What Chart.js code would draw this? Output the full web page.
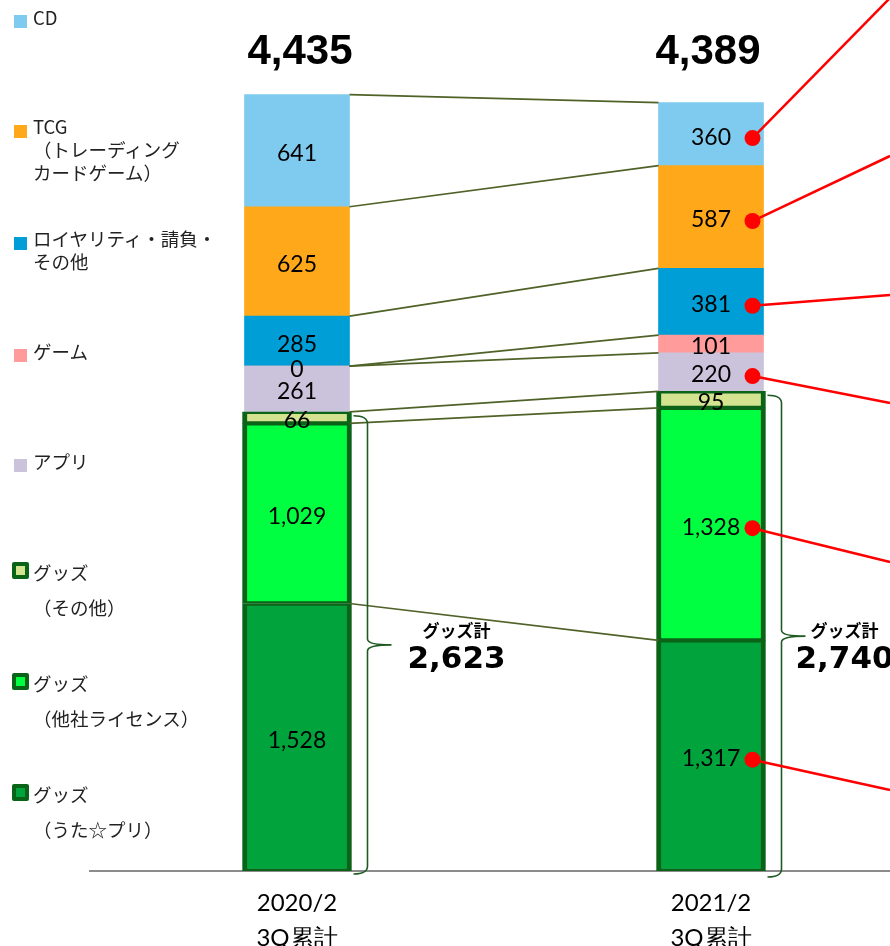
<!DOCTYPE html>
<html>
<head>
<meta charset="utf-8">
<script src="https://cdn.jsdelivr.net/npm/chart.js@4"></script>
<style>
  html, body { margin: 0; padding: 0; background: #fff; width: 890px; height: 946px; overflow: hidden; }
  #chart { position: absolute; left: 0; top: 0; }
  .legend { position: absolute; left: 0; top: 0; font-family: "Noto Sans CJK JP", sans-serif; font-size: 18.5px; color: #222; }
  .legend .sw { position: absolute; width: 13px; height: 13px; }
  .legend .sw.goods { width: 9px; height: 9px; border: 4px solid #0b6318; border-radius: 2px; }
  .legend .t { position: absolute; left: 33px; white-space: pre; }
</style>
</head>
<body>
<canvas id="chart" width="930" height="946"></canvas>
<div class="legend" id="legend"></div>
<script>
// values (million yen)
const categories = [["2020/2", "3Q累計"], ["2021/2", "3Q累計"]];
const goodsUta = [1528, 1317];
const goodsLicense = [1029, 1328];
const goodsOther = [66, 95];
const app = [261, 220];
const game = [0, 101];
const royalty = [285, 381];
const tcg = [625, 587];
const cd = [641, 360];
const totals = [4435, 4389];
const goodsTotals = [2623, 2740];

// stacked bottom -> top
const series = [
  { key: "goodsUta", label: "グッズ\n（うた☆プリ）", data: goodsUta, color: "#00a33c", goods: true },
  { key: "goodsLicense", label: "グッズ\n（他社ライセンス）", data: goodsLicense, color: "#00ff40", goods: true },
  { key: "goodsOther", label: "グッズ\n（その他）", data: goodsOther, color: "#d4e38f", goods: true },
  { key: "app", label: "アプリ", data: app, color: "#cbc3dc" },
  { key: "game", label: "ゲーム", data: game, color: "#ff9b9b" },
  { key: "royalty", label: "ロイヤリティ・請負・\nその他", data: royalty, color: "#009ed6" },
  { key: "tcg", label: "TCG\n（トレーディング\nカードゲーム）", data: tcg, color: "#ffa81a" },
  { key: "cd", label: "CD", data: cd, color: "#7fcbef" }
];

// legend layout (top -> bottom), text top y and line height
const legendOrder = ["cd", "tcg", "royalty", "game", "app", "goodsOther", "goodsLicense", "goodsUta"];
const legendTop = [5, 115, 227, 339, 449, 555, 666, 777];
const legendLine = [24, 23, 23, 24, 24, 35, 35, 35];

const legendEl = document.getElementById("legend");
legendOrder.forEach((k, i) => {
  const s = series.find(d => d.key === k);
  const sw = document.createElement("div");
  sw.className = "sw" + (s.goods ? " goods" : "");
  sw.style.background = s.color;
  sw.style.left = (s.goods ? 12 : 14) + "px";
  sw.style.top = (legendTop[i] + (s.goods ? 7 : 10)) + "px";
  legendEl.appendChild(sw);
  const t = document.createElement("div");
  t.className = "t";
  t.style.top = legendTop[i] + "px";
  t.style.lineHeight = legendLine[i] + "px";
  t.textContent = s.label;
  legendEl.appendChild(t);
});

// red callouts on the 2021 bar: series and where the line leaves the picture (y at x = 890)
const calloutKeys = ["cd", "tcg", "royalty", "app", "goodsLicense", "goodsUta"];
const calloutEdgeY = [-2, 156, 295, 403, 562, 790];

const fmt = v => v.toLocaleString("en-US");

const annotations = {
  id: "annotations",
  afterDatasetsDraw(chart) {
    const ctx = chart.ctx;
    const area = chart.chartArea;
    const metas = series.map((s, i) => chart.getDatasetMeta(i));
    const plain = metas[3].data; // non-goods bar geometry (105px)
    ctx.save();

    // connector lines between the two bars at each boundary
    ctx.strokeStyle = "#4f6228";
    ctx.lineWidth = 1.7;
    metas.forEach(m => {
      const a = m.data[0], b = m.data[1];
      ctx.beginPath();
      ctx.moveTo(plain[0].x + plain[0].width / 2, a.y);
      ctx.lineTo(plain[1].x - plain[1].width / 2, b.y);
      ctx.stroke();
    });

    // segment values
    ctx.fillStyle = "#000";
    ctx.font = "23px Lato";
    ctx.textAlign = "center";
    ctx.textBaseline = "middle";
    metas.forEach((m, i) => {
      m.data.forEach((bar, j) => {
        ctx.fillText(fmt(series[i].data[j]), bar.x, (bar.y + bar.base) / 2 + 3);
      });
    });

    // totals on top
    const totalDx = [3, -3];
    ctx.font = "bold 42px 'Liberation Sans'";
    totals.forEach((v, j) => {
      ctx.fillText(fmt(v), metas[0].data[j].x + totalDx[j], area.top + 52);
    });

    // braces + goods totals
    const goodsTop = metas[2];
    const labelDx = [107, 81];
    const ys = chart.scales.y;
    const labelMid = ys.getPixelForValue((goodsTotals[0] + goodsTotals[1]) / 4);
    goodsTotals.forEach((v, j) => {
      const bar = goodsTop.data[j];
      const right = plain[j].x + plain[j].width / 2;
      const top = bar.y + 4, bottom = metas[0].data[j].base + 3 + j * 3;
      const mid = (top + bottom) / 2;
      const x0 = right + 4, xv = right + 18, xt = right + 42;
      ctx.strokeStyle = "#1f5a22";
      ctx.lineWidth = 1.6;
      ctx.beginPath();
      ctx.moveTo(x0, top);
      ctx.quadraticCurveTo(xv, top, xv, top + 8);
      ctx.lineTo(xv, mid - 6);
      ctx.quadraticCurveTo(xv, mid, xt, mid);
      ctx.quadraticCurveTo(xv, mid, xv, mid + 6);
      ctx.lineTo(xv, bottom - 8);
      ctx.quadraticCurveTo(xv, bottom, x0, bottom);
      ctx.stroke();

      ctx.fillStyle = "#000";
      ctx.font = "bold 17px 'Noto Sans CJK JP'";
      ctx.fillText("グッズ計", right + labelDx[j], labelMid - 6);
      ctx.font = "bold 31px 'DejaVu Sans'";
      ctx.fillText(fmt(v), right + labelDx[j], labelMid + 24);
    });

    // red callout lines
    ctx.strokeStyle = "#ff0000";
    ctx.fillStyle = "#ff0000";
    ctx.lineWidth = 2.5;
    calloutKeys.forEach((k, i) => {
      const idx = series.findIndex(s => s.key === k);
      const bar = metas[idx].data[1];
      const dx = plain[1].x + plain[1].width / 2 - 11;
      const dy = (bar.y + bar.base) / 2 + 4;
      ctx.beginPath();
      ctx.moveTo(dx, dy);
      ctx.lineTo(890, calloutEdgeY[i]);
      ctx.stroke();
      ctx.beginPath();
      ctx.arc(dx, dy, 8, 0, Math.PI * 2);
      ctx.fill();
    });
    ctx.restore();
  }
};

new Chart(document.getElementById("chart"), {
  type: "bar",
  data: {
    labels: categories,
    datasets: series.map(s => ({
      label: s.label,
      data: s.data,
      backgroundColor: s.color,
      borderColor: s.goods ? "#0b6318" : s.color,
      borderWidth: s.goods ? { left: 5, right: 5, top: 2.5, bottom: 2.5 } : 0,
      borderSkipped: false,
      barThickness: s.goods ? 109 : 105
    }))
  },
  options: {
    responsive: false,
    animation: false,
    layout: { padding: { left: 90, right: 12, top: 0, bottom: 0 } },
    plugins: { legend: { display: false }, tooltip: { enabled: false } },
    scales: {
      x: {
        stacked: true,
        grid: { display: false, drawTicks: false },
        border: { display: true, color: "#8c8c8c", width: 2 },
        ticks: { color: "#000", font: { family: "Lato", size: 24, lineHeight: 1.45 }, padding: 15, maxRotation: 0 },
        afterFit(scale) { scale.height = 75; }
      },
      y: { stacked: true, display: false, min: 0, max: 4975 }
    }
  },
  plugins: [annotations]
});
</script>
</body>
</html>
